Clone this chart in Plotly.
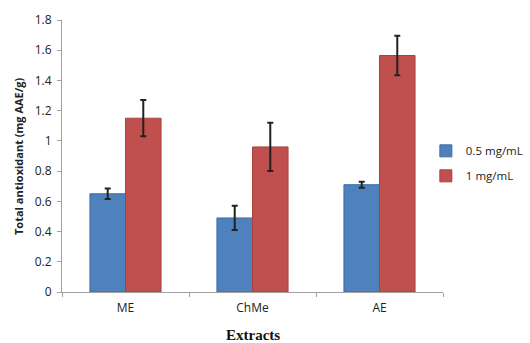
import plotly.graph_objects as go

categories = ["ME", "ChMe", "AE"]
low_vals = [0.65, 0.49, 0.71]
low_err = [0.035, 0.08, 0.02]
high_vals = [1.15, 0.96, 1.565]
high_err = [0.12, 0.16, 0.13]
series_names = ["0.5 mg/mL", "1 mg/mL"]
y_ticks = [0, 0.2, 0.4, 0.6, 0.8, 1, 1.2, 1.4, 1.6, 1.8]

fig = go.Figure()
fig.add_trace(go.Bar(
    x=categories, y=low_vals, name=series_names[0], legendgroup="a",
    marker=dict(color="#4F81BD", line=dict(color="#3C6CA8", width=1)),
    error_y=dict(type="data", array=low_err, color="#222222", thickness=2, width=3),
))
fig.add_trace(go.Bar(
    x=categories, y=high_vals, name=series_names[1], legendgroup="b",
    marker=dict(color="#C0504D", line=dict(color="#A8403D", width=1)),
    error_y=dict(type="data", array=high_err, color="#222222", thickness=2, width=3),
))

fig.update_layout(
    width=530, height=343,
    margin=dict(l=62, r=87, t=20, b=51, autoexpand=False),
    paper_bgcolor="white", plot_bgcolor="white",
    barmode="group", bargap=0.44, bargroupgap=0,
    font=dict(family="Open Sans, Liberation Sans, sans-serif", size=11, color="#333333"),
    legend=dict(x=0.955, y=0.473, xanchor="left", yanchor="middle",
                font=dict(size=11.5, color="#222222"),
                traceorder="grouped", tracegroupgap=6,
                itemwidth=30,
                bgcolor="rgba(0,0,0,0)"),
    xaxis=dict(
        automargin=False,
        showline=True, linecolor="#A0A0A0", linewidth=1,
        ticks="outside", tickson="boundaries", ticklen=4, tickcolor="#A0A0A0",
        ticklabelstandoff=5,
        tickfont=dict(size=12, color="#222222"),
    ),
    yaxis=dict(
        automargin=False,
        range=[0, 1.8], tickvals=y_ticks, ticktext=[str(t) for t in y_ticks],
        showline=True, linecolor="#A0A0A0", linewidth=1,
        ticks="outside", ticklen=4, tickcolor="#A0A0A0",
        ticklabelstandoff=3,
        showgrid=False, zeroline=False,
        tickfont=dict(size=12, color="#222222"),
    ),
    annotations=[
        dict(text="<b>Extracts</b>", xref="paper", yref="paper", x=0.5, y=-0.158,
             xanchor="center", yanchor="middle", showarrow=False,
             font=dict(family="Liberation Serif, Times New Roman, serif", size=15, color="#111111")),
        dict(text="<b>Total antioxidant (mg AAE/g)</b>", xref="paper", yref="paper",
             x=-44 / 381, y=0.5, xanchor="center", yanchor="middle", showarrow=False,
             textangle=-90, font=dict(size=11, color="#222222")),
    ],
)

fig.write_html("out.html", config={"displayModeBar": False},
               post_script="document.body.style.margin='0px';")
